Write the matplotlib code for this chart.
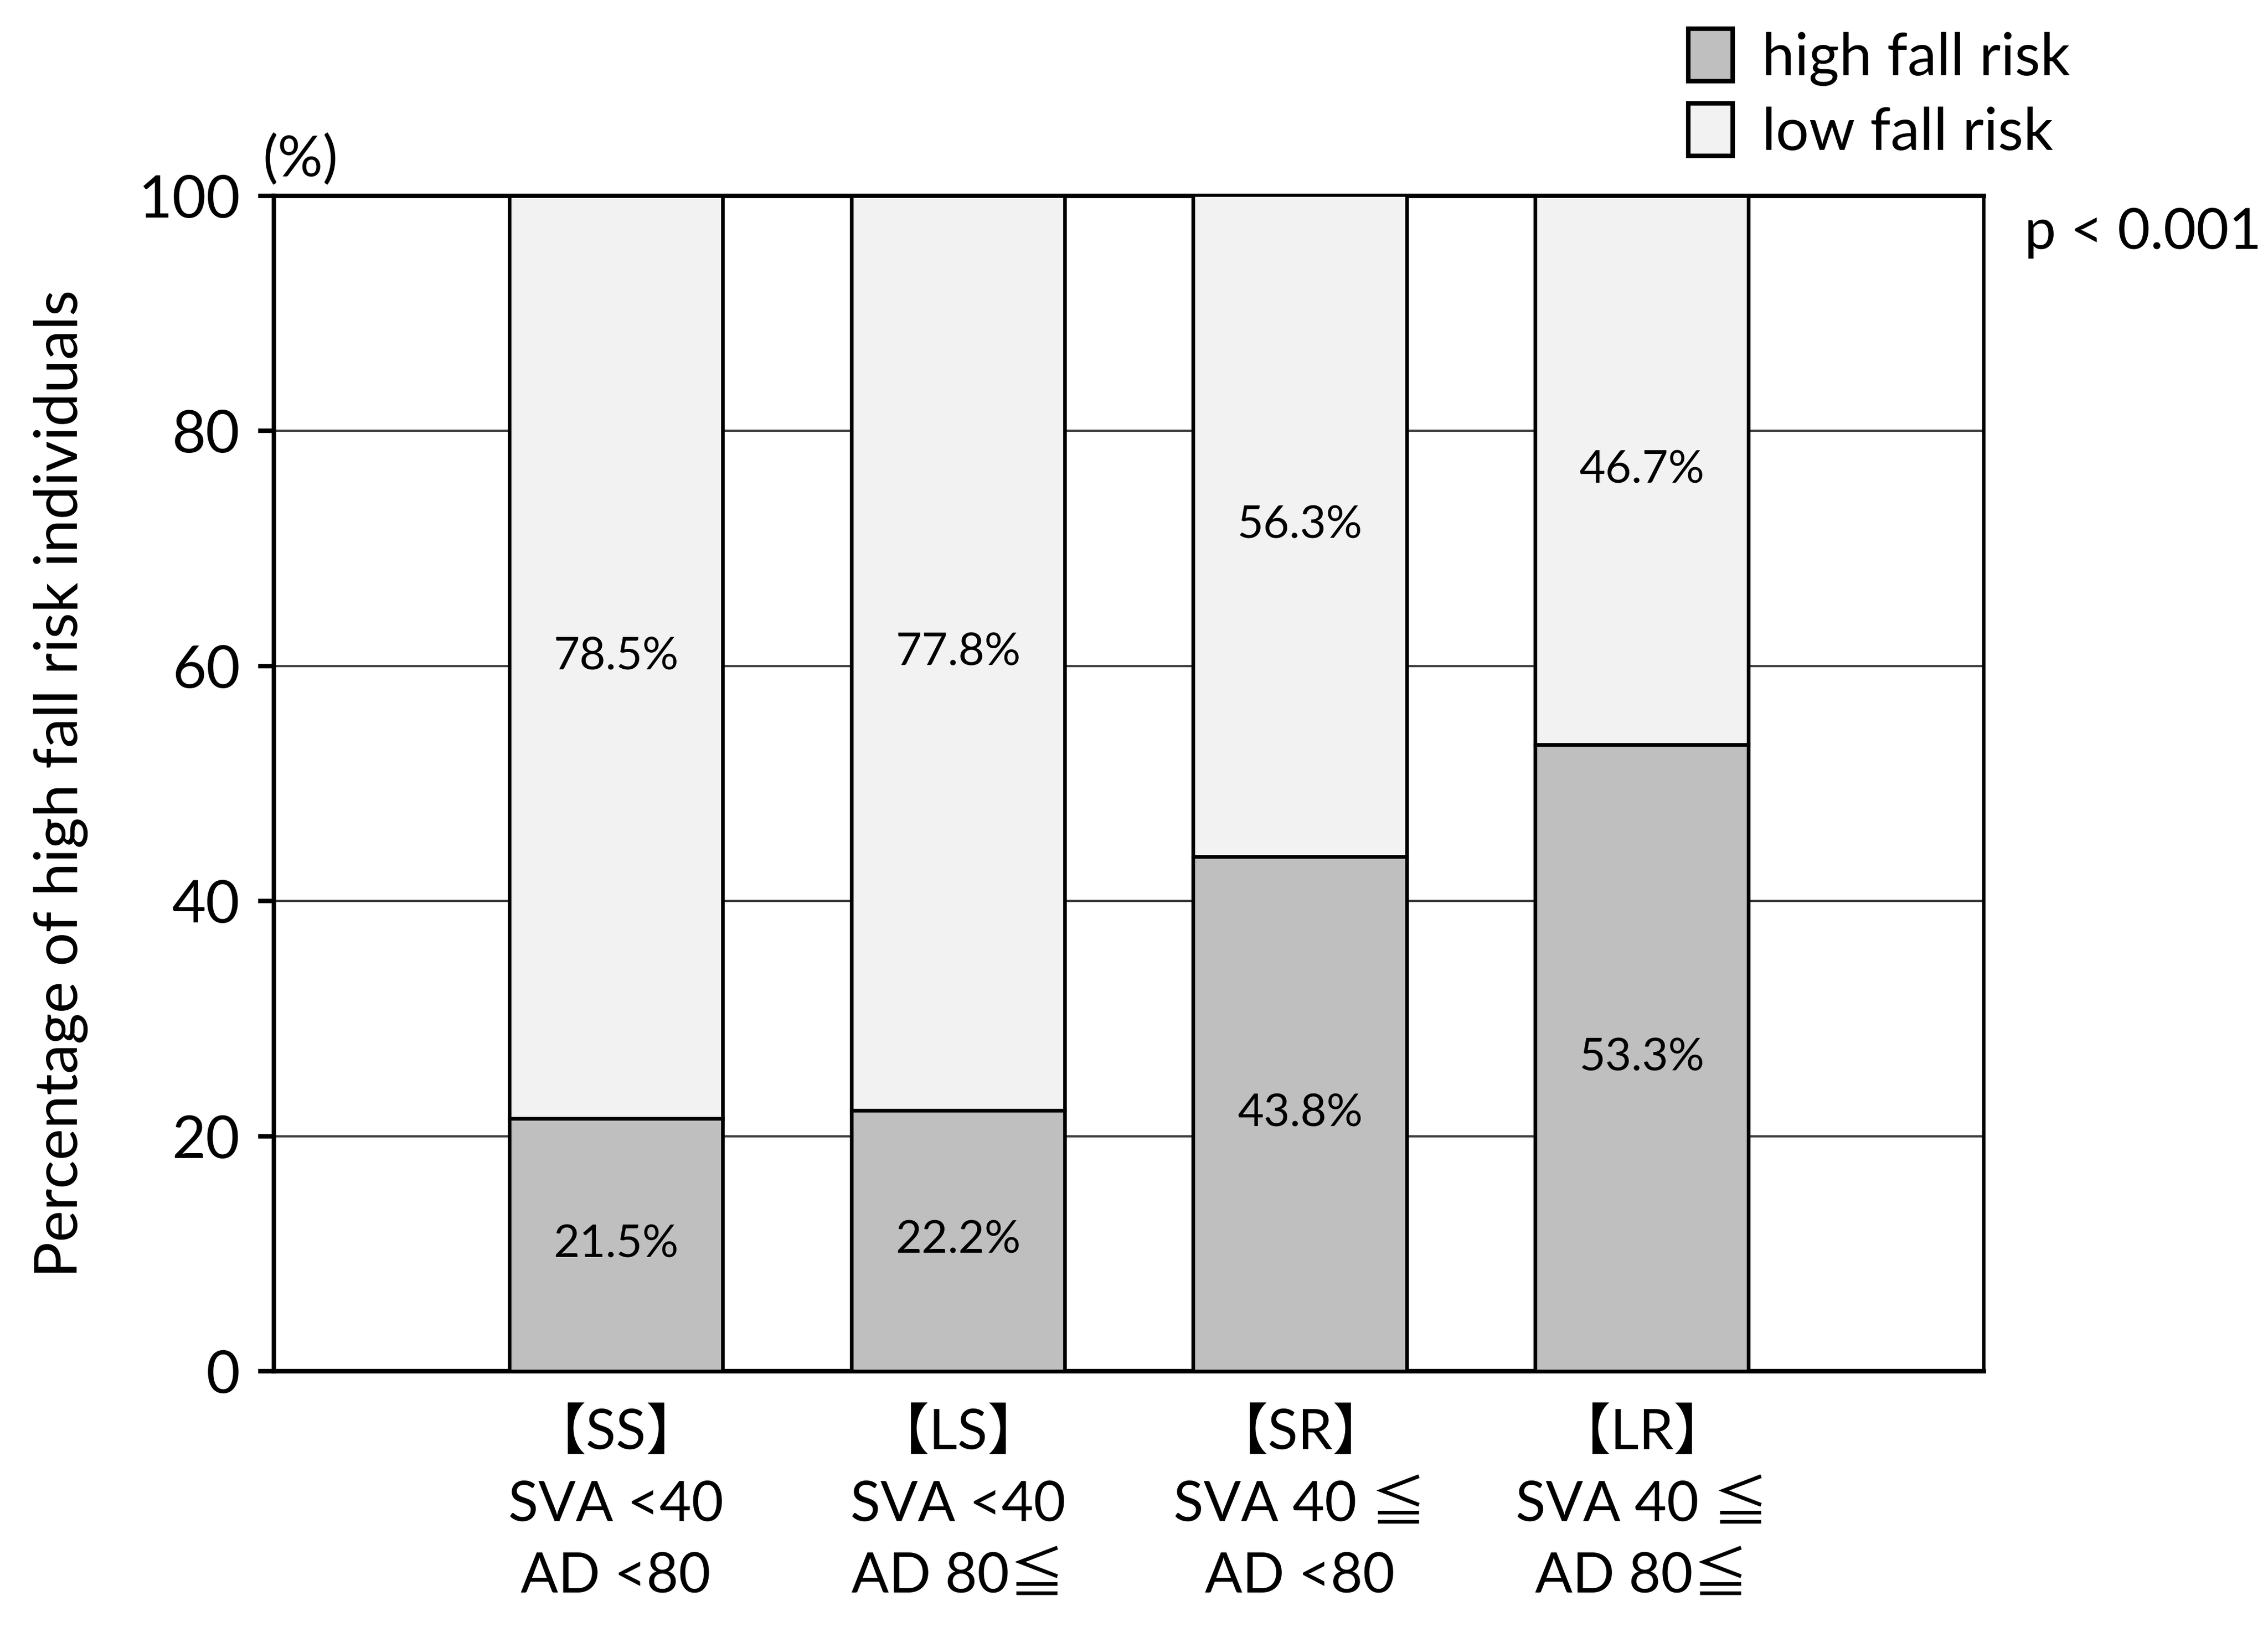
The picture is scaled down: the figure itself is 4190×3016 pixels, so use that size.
import matplotlib
matplotlib.use("Agg")
import matplotlib.pyplot as plt
from matplotlib.patches import Patch
import numpy as np

plt.rcParams['font.family'] = ['Lato', 'Noto Sans CJK JP', 'DejaVu Sans']

# data
groups = ['【SS】\nSVA <40\nAD <80',
          '【LS】\nSVA <40\nAD 80≦',
          '【SR】\nSVA 40 ≦\nAD <80',
          '【LR】\nSVA 40 ≦\nAD 80≦']
high_risk = [21.5, 22.2, 43.8, 53.3]
low_risk = [78.5, 77.8, 56.3, 46.7]
series_names = ['high fall risk', 'low fall risk']
y_ticks = [0, 20, 40, 60, 80, 100]

high_color = '#bfbfbf'
low_color = '#f2f2f2'

fig = plt.figure(figsize=(4190 / 300, 3016 / 300), dpi=300)
ax = fig.add_axes([0.1208, 0.1598, 0.7539, 0.7202])

x = np.arange(len(groups))
width = 0.624

ax.bar(x, high_risk, width, color=high_color, edgecolor='black', linewidth=1.6, zorder=3)
ax.bar(x, low_risk, width, bottom=high_risk, color=low_color, edgecolor='black',
       linewidth=1.6, zorder=3)

# labels in the middle of each segment
for xi, h, l in zip(x, high_risk, low_risk):
    ax.text(xi, h / 2, f'{h}%', ha='center', va='center', fontsize=20, zorder=4)
    ax.text(xi, h + l / 2, f'{l}%', ha='center', va='center', fontsize=20, zorder=4)

ax.set_xlim(-1, 4)
ax.set_ylim(0, 100)
ax.set_yticks(y_ticks)
ax.set_yticklabels([str(t) for t in y_ticks], fontsize=26)
ax.tick_params(axis='y', length=7, width=2, pad=8, direction='out')
ax.set_xticks(x)
ax.set_xticklabels(groups, fontsize=24.5, linespacing=1.5)
ax.tick_params(axis='x', length=0, pad=16)

ax.yaxis.grid(True, color='#404040', linewidth=1.0, zorder=0)
ax.set_axisbelow(True)

for side in ['left', 'bottom', 'top']:
    ax.spines[side].set_linewidth(2.0)
ax.spines['right'].set_linewidth(1.5)

ax.set_ylabel('Percentage of high fall risk individuals', fontsize=26.5, labelpad=22)

fig.text(555 / 4190, 1 - 295 / 3016, '(%)', ha='center', va='center', fontsize=25)
fig.text(3740 / 4190, 1 - 460 / 3016, 'p < 0.001', ha='left', va='baseline', fontsize=25)

handles = [Patch(facecolor=high_color, edgecolor='black', linewidth=2.0),
           Patch(facecolor=low_color, edgecolor='black', linewidth=2.0)]
fig.legend(handles, series_names, loc='upper left', bbox_to_anchor=(3076 / 4190, 1 - 10 / 3016),
           frameon=False, fontsize=26, handlelength=0.75, handleheight=1.0,
           handletextpad=0.5, labelspacing=0.3, borderaxespad=0)

fig.savefig('out.png', dpi=300)
